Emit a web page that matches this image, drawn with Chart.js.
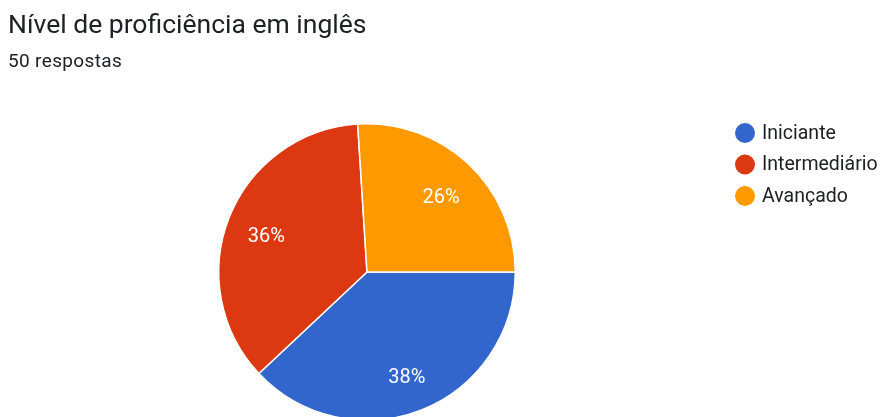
<!DOCTYPE html>
<html>
<head>
<meta charset="utf-8">
<script src="https://cdn.jsdelivr.net/npm/chart.js@4/dist/chart.umd.min.js"></script>
<style>
  html, body { margin: 0; padding: 0; background: #fff; overflow: hidden; }
  #wrap { position: relative; width: 881px; height: 417px; overflow: hidden; font-family: Roboto, sans-serif; }
  #title { position: absolute; left: 8px; top: 11px; font-size: 26.5px; line-height: 26px; color: #202124; white-space: nowrap; }
  #subtitle { position: absolute; left: 8px; top: 51px; font-size: 19px; line-height: 19px; color: #202124; letter-spacing: 0.35px; }
  #box { position: absolute; left: 0; top: 0; width: 881px; height: 440px; }
</style>
</head>
<body>
<div id="wrap">
  <div id="box"><canvas id="pieCanvas"></canvas></div>
  <div id="title">Nível de proficiência em inglês</div>
  <div id="subtitle">50 respostas</div>
</div>
<script>
const labels = ['Iniciante', 'Intermediário', 'Avançado'];
const counts = [19, 18, 13];
const colors = ['#3366cc', '#dc3912', '#ff9900'];

// percent labels inside each slice
const sliceLabels = {
    id: 'sliceLabels',
    afterDatasetsDraw(chart) {
        const ctx = chart.ctx;
        const meta = chart.getDatasetMeta(0);
        const total = counts.reduce((a, b) => a + b, 0);
        ctx.save();
        ctx.fillStyle = '#ffffff';
        ctx.font = '20px Roboto';
        ctx.textAlign = 'center';
        ctx.textBaseline = 'middle';
        meta.data.forEach((arc, i) => {
            const p = arc.getProps(['x', 'y', 'startAngle', 'endAngle', 'outerRadius']);
            const mid = (p.startAngle + p.endAngle) / 2;
            const r = p.outerRadius * 0.73;
            const pct = Math.round(counts[i] / total * 100) + '%';
            ctx.fillText(pct, p.x + Math.cos(mid) * r, p.y + Math.sin(mid) * r + 5);
        });
        ctx.restore();
    }
};

// legend on the right with round markers
const sideLegend = {
    id: 'sideLegend',
    afterDraw(chart) {
        const ctx = chart.ctx;
        ctx.save();
        ctx.font = '19.5px Roboto';
        ctx.textBaseline = 'middle';
        labels.forEach((name, i) => {
            const y = 133 + i * 31.5;
            ctx.fillStyle = colors[i];
            ctx.beginPath();
            ctx.arc(745, y, 10, 0, Math.PI * 2);
            ctx.fill();
            ctx.fillStyle = '#202124';
            ctx.fillText(name, 762, y + 1);
        });
        ctx.restore();
    }
};

const pieData = {
    type: 'pie',
    data: {
        labels: labels,
        datasets: [{
            data: counts,
            backgroundColor: colors,
            borderColor: '#ffffff',
            borderWidth: 1.5
        }]
    },
    options: {
        responsive: true,
        maintainAspectRatio: false,
        animation: false,
        rotation: 90,
        layout: {
            padding: { left: 218, right: 365, top: 123, bottom: 19 }
        },
        plugins: {
            legend: { display: false },
            tooltip: { enabled: false }
        }
    },
    plugins: [sliceLabels, sideLegend]
};

const pie = new Chart(document.getElementById('pieCanvas'), pieData);
</script>
</body>
</html>
